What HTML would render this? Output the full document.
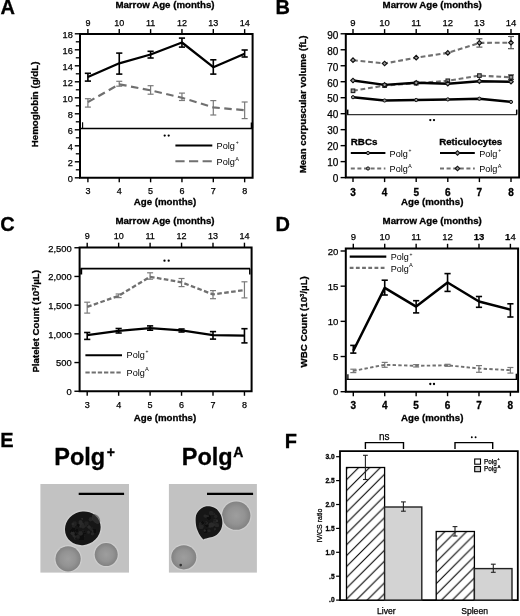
<!DOCTYPE html>
<html><head><meta charset="utf-8"><style>
html,body{margin:0;padding:0;background:#fff;}
svg{display:block;filter:blur(0.25px);font-family:"Liberation Sans", sans-serif;-webkit-font-smoothing:antialiased;will-change:transform;}
</style></head><body>
<svg width="520" height="616" viewBox="0 0 520 616">
<rect width="520" height="616" fill="#fff"/>
<text x="0.50" y="14.20" font-size="20" font-weight="bold" text-anchor="start" fill="#000" stroke="#000" stroke-width="0.3">A</text>
<text x="275.60" y="14.40" font-size="20" font-weight="bold" text-anchor="start" fill="#000" stroke="#000" stroke-width="0.3">B</text>
<text x="0.20" y="230.60" font-size="20" font-weight="bold" text-anchor="start" fill="#000" stroke="#000" stroke-width="0.3">C</text>
<text x="275.60" y="230.60" font-size="20" font-weight="bold" text-anchor="start" fill="#000" stroke="#000" stroke-width="0.3">D</text>
<text x="0.30" y="446.90" font-size="20" font-weight="bold" text-anchor="start" fill="#000" stroke="#000" stroke-width="0.3">E</text>
<text x="284.80" y="447.80" font-size="20" font-weight="bold" text-anchor="start" fill="#000" stroke="#000" stroke-width="0.3">F</text>
<path d="M80,177.8 L80,33.9 L252.6,33.9 L252.6,177.8 Z" fill="none" stroke="#000" stroke-width="2"/>
<line x1="87.90" y1="29.10" x2="87.90" y2="33.90" stroke="#000" stroke-width="1.4"/>
<text x="87.90" y="25.70" font-size="9" text-anchor="middle" fill="#000" stroke="#000" stroke-width="0.25">9</text>
<line x1="87.90" y1="177.80" x2="87.90" y2="182.30" stroke="#000" stroke-width="1.4"/>
<text x="87.90" y="194.30" font-size="9" text-anchor="middle" fill="#000" stroke="#000" stroke-width="0.25">3</text>
<line x1="119.25" y1="29.10" x2="119.25" y2="33.90" stroke="#000" stroke-width="1.4"/>
<text x="119.25" y="25.70" font-size="9" text-anchor="middle" fill="#000" stroke="#000" stroke-width="0.25">10</text>
<line x1="119.25" y1="177.80" x2="119.25" y2="182.30" stroke="#000" stroke-width="1.4"/>
<text x="119.25" y="194.30" font-size="9" text-anchor="middle" fill="#000" stroke="#000" stroke-width="0.25">4</text>
<line x1="150.60" y1="29.10" x2="150.60" y2="33.90" stroke="#000" stroke-width="1.4"/>
<text x="150.60" y="25.70" font-size="9" text-anchor="middle" fill="#000" stroke="#000" stroke-width="0.25">11</text>
<line x1="150.60" y1="177.80" x2="150.60" y2="182.30" stroke="#000" stroke-width="1.4"/>
<text x="150.60" y="194.30" font-size="9" text-anchor="middle" fill="#000" stroke="#000" stroke-width="0.25">5</text>
<line x1="181.95" y1="29.10" x2="181.95" y2="33.90" stroke="#000" stroke-width="1.4"/>
<text x="181.95" y="25.70" font-size="9" text-anchor="middle" fill="#000" stroke="#000" stroke-width="0.25">12</text>
<line x1="181.95" y1="177.80" x2="181.95" y2="182.30" stroke="#000" stroke-width="1.4"/>
<text x="181.95" y="194.30" font-size="9" text-anchor="middle" fill="#000" stroke="#000" stroke-width="0.25">6</text>
<line x1="213.30" y1="29.10" x2="213.30" y2="33.90" stroke="#000" stroke-width="1.4"/>
<text x="213.30" y="25.70" font-size="9" text-anchor="middle" fill="#000" stroke="#000" stroke-width="0.25">13</text>
<line x1="213.30" y1="177.80" x2="213.30" y2="182.30" stroke="#000" stroke-width="1.4"/>
<text x="213.30" y="194.30" font-size="9" text-anchor="middle" fill="#000" stroke="#000" stroke-width="0.25">7</text>
<line x1="244.65" y1="29.10" x2="244.65" y2="33.90" stroke="#000" stroke-width="1.4"/>
<text x="244.65" y="25.70" font-size="9" text-anchor="middle" fill="#000" stroke="#000" stroke-width="0.25">14</text>
<line x1="244.65" y1="177.80" x2="244.65" y2="182.30" stroke="#000" stroke-width="1.4"/>
<text x="244.65" y="194.30" font-size="9" text-anchor="middle" fill="#000" stroke="#000" stroke-width="0.25">8</text>
<line x1="74.80" y1="177.80" x2="80.00" y2="177.80" stroke="#000" stroke-width="1.4"/>
<text x="72.80" y="182.39" font-size="9.2" text-anchor="end" fill="#000" stroke="#000" stroke-width="0.25">0</text>
<line x1="74.80" y1="161.80" x2="80.00" y2="161.80" stroke="#000" stroke-width="1.4"/>
<text x="72.80" y="166.39" font-size="9.2" text-anchor="end" fill="#000" stroke="#000" stroke-width="0.25">2</text>
<line x1="74.80" y1="145.80" x2="80.00" y2="145.80" stroke="#000" stroke-width="1.4"/>
<text x="72.80" y="150.39" font-size="9.2" text-anchor="end" fill="#000" stroke="#000" stroke-width="0.25">4</text>
<line x1="74.80" y1="129.80" x2="80.00" y2="129.80" stroke="#000" stroke-width="1.4"/>
<text x="72.80" y="134.39" font-size="9.2" text-anchor="end" fill="#000" stroke="#000" stroke-width="0.25">6</text>
<line x1="74.80" y1="113.80" x2="80.00" y2="113.80" stroke="#000" stroke-width="1.4"/>
<text x="72.80" y="118.39" font-size="9.2" text-anchor="end" fill="#000" stroke="#000" stroke-width="0.25">8</text>
<line x1="74.80" y1="97.80" x2="80.00" y2="97.80" stroke="#000" stroke-width="1.4"/>
<text x="72.80" y="102.39" font-size="9.2" text-anchor="end" fill="#000" stroke="#000" stroke-width="0.25">10</text>
<line x1="74.80" y1="81.80" x2="80.00" y2="81.80" stroke="#000" stroke-width="1.4"/>
<text x="72.80" y="86.39" font-size="9.2" text-anchor="end" fill="#000" stroke="#000" stroke-width="0.25">12</text>
<line x1="74.80" y1="65.80" x2="80.00" y2="65.80" stroke="#000" stroke-width="1.4"/>
<text x="72.80" y="70.39" font-size="9.2" text-anchor="end" fill="#000" stroke="#000" stroke-width="0.25">14</text>
<line x1="74.80" y1="49.80" x2="80.00" y2="49.80" stroke="#000" stroke-width="1.4"/>
<text x="72.80" y="54.39" font-size="9.2" text-anchor="end" fill="#000" stroke="#000" stroke-width="0.25">16</text>
<line x1="74.80" y1="33.80" x2="80.00" y2="33.80" stroke="#000" stroke-width="1.4"/>
<text x="72.80" y="38.39" font-size="9.2" text-anchor="end" fill="#000" stroke="#000" stroke-width="0.25">18</text>
<line x1="75.80" y1="169.80" x2="80.00" y2="169.80" stroke="#000" stroke-width="1.3"/>
<line x1="75.80" y1="153.80" x2="80.00" y2="153.80" stroke="#000" stroke-width="1.3"/>
<line x1="75.80" y1="137.80" x2="80.00" y2="137.80" stroke="#000" stroke-width="1.3"/>
<line x1="75.80" y1="121.80" x2="80.00" y2="121.80" stroke="#000" stroke-width="1.3"/>
<line x1="75.80" y1="105.80" x2="80.00" y2="105.80" stroke="#000" stroke-width="1.3"/>
<line x1="75.80" y1="89.80" x2="80.00" y2="89.80" stroke="#000" stroke-width="1.3"/>
<line x1="75.80" y1="73.80" x2="80.00" y2="73.80" stroke="#000" stroke-width="1.3"/>
<line x1="75.80" y1="57.80" x2="80.00" y2="57.80" stroke="#000" stroke-width="1.3"/>
<line x1="75.80" y1="41.80" x2="80.00" y2="41.80" stroke="#000" stroke-width="1.3"/>
<text x="165.00" y="7.80" font-size="9.7" font-weight="bold" text-anchor="middle" fill="#000" stroke="#000" stroke-width="0.3">Marrow Age (months)</text>
<text x="165.00" y="205.20" font-size="9.7" font-weight="bold" text-anchor="middle" fill="#000" stroke="#000" stroke-width="0.3">Age (months)</text>
<text x="0" y="0" font-size="9.7" font-weight="bold" stroke="#000" stroke-width="0.3" text-anchor="middle" transform="translate(37.80,104.40) rotate(-90)">Hemoglobin (g/dL)</text>
<line x1="81.00" y1="128.40" x2="252.00" y2="128.40" stroke="#000" stroke-width="1.45"/>
<line x1="82.60" y1="122.30" x2="82.60" y2="128.40" stroke="#000" stroke-width="1.15"/>
<line x1="251.90" y1="122.50" x2="251.90" y2="128.30" stroke="#000" stroke-width="2.4"/>
<circle cx="164.70" cy="135.60" r="1.15" fill="#000"/><circle cx="168.70" cy="135.60" r="1.15" fill="#000"/>
<line x1="87.90" y1="98.70" x2="87.90" y2="107.10" stroke="#7a7a7a" stroke-width="1.2"/>
<line x1="84.90" y1="98.70" x2="90.90" y2="98.70" stroke="#7a7a7a" stroke-width="1.2"/>
<line x1="84.90" y1="107.10" x2="90.90" y2="107.10" stroke="#7a7a7a" stroke-width="1.2"/>
<line x1="119.25" y1="81.30" x2="119.25" y2="86.20" stroke="#7a7a7a" stroke-width="1.2"/>
<line x1="116.25" y1="81.30" x2="122.25" y2="81.30" stroke="#7a7a7a" stroke-width="1.2"/>
<line x1="116.25" y1="86.20" x2="122.25" y2="86.20" stroke="#7a7a7a" stroke-width="1.2"/>
<line x1="150.60" y1="85.70" x2="150.60" y2="94.20" stroke="#7a7a7a" stroke-width="1.2"/>
<line x1="147.60" y1="85.70" x2="153.60" y2="85.70" stroke="#7a7a7a" stroke-width="1.2"/>
<line x1="147.60" y1="94.20" x2="153.60" y2="94.20" stroke="#7a7a7a" stroke-width="1.2"/>
<line x1="181.95" y1="93.10" x2="181.95" y2="100.50" stroke="#7a7a7a" stroke-width="1.2"/>
<line x1="178.95" y1="93.10" x2="184.95" y2="93.10" stroke="#7a7a7a" stroke-width="1.2"/>
<line x1="178.95" y1="100.50" x2="184.95" y2="100.50" stroke="#7a7a7a" stroke-width="1.2"/>
<line x1="213.30" y1="100.60" x2="213.30" y2="115.00" stroke="#7a7a7a" stroke-width="1.2"/>
<line x1="210.30" y1="100.60" x2="216.30" y2="100.60" stroke="#7a7a7a" stroke-width="1.2"/>
<line x1="210.30" y1="115.00" x2="216.30" y2="115.00" stroke="#7a7a7a" stroke-width="1.2"/>
<line x1="244.65" y1="102.00" x2="244.65" y2="118.60" stroke="#7a7a7a" stroke-width="1.2"/>
<line x1="241.65" y1="102.00" x2="247.65" y2="102.00" stroke="#7a7a7a" stroke-width="1.2"/>
<line x1="241.65" y1="118.60" x2="247.65" y2="118.60" stroke="#7a7a7a" stroke-width="1.2"/>
<polyline points="87.90,102.10 119.25,84.30 150.60,90.30 181.95,97.70 213.30,107.40 244.65,110.20" fill="none" stroke="#707070" stroke-width="2.2" stroke-linejoin="round" stroke-dasharray="7.5,4.5"/>
<line x1="87.90" y1="73.30" x2="87.90" y2="81.10" stroke="#000" stroke-width="1.6"/>
<line x1="84.80" y1="73.30" x2="91.00" y2="73.30" stroke="#000" stroke-width="1.6"/>
<line x1="84.80" y1="81.10" x2="91.00" y2="81.10" stroke="#000" stroke-width="1.6"/>
<line x1="119.25" y1="53.10" x2="119.25" y2="74.10" stroke="#000" stroke-width="1.6"/>
<line x1="116.15" y1="53.10" x2="122.35" y2="53.10" stroke="#000" stroke-width="1.6"/>
<line x1="116.15" y1="74.10" x2="122.35" y2="74.10" stroke="#000" stroke-width="1.6"/>
<line x1="150.60" y1="51.30" x2="150.60" y2="58.00" stroke="#000" stroke-width="1.6"/>
<line x1="147.50" y1="51.30" x2="153.70" y2="51.30" stroke="#000" stroke-width="1.6"/>
<line x1="147.50" y1="58.00" x2="153.70" y2="58.00" stroke="#000" stroke-width="1.6"/>
<line x1="181.95" y1="38.10" x2="181.95" y2="47.10" stroke="#000" stroke-width="1.6"/>
<line x1="178.85" y1="38.10" x2="185.05" y2="38.10" stroke="#000" stroke-width="1.6"/>
<line x1="178.85" y1="47.10" x2="185.05" y2="47.10" stroke="#000" stroke-width="1.6"/>
<line x1="213.30" y1="59.80" x2="213.30" y2="74.10" stroke="#000" stroke-width="1.6"/>
<line x1="210.20" y1="59.80" x2="216.40" y2="59.80" stroke="#000" stroke-width="1.6"/>
<line x1="210.20" y1="74.10" x2="216.40" y2="74.10" stroke="#000" stroke-width="1.6"/>
<line x1="244.65" y1="50.00" x2="244.65" y2="57.00" stroke="#000" stroke-width="1.6"/>
<line x1="241.55" y1="50.00" x2="247.75" y2="50.00" stroke="#000" stroke-width="1.6"/>
<line x1="241.55" y1="57.00" x2="247.75" y2="57.00" stroke="#000" stroke-width="1.6"/>
<polyline points="87.90,77.00 119.25,63.30 150.60,54.50 181.95,42.50 213.30,67.20 244.65,53.70" fill="none" stroke="#000" stroke-width="2.3" stroke-linejoin="round"/>
<line x1="175.40" y1="145.50" x2="212.30" y2="145.50" stroke="#000" stroke-width="2.1"/>
<line x1="175.40" y1="161.20" x2="212.30" y2="161.20" stroke="#707070" stroke-width="2.1" stroke-dasharray="9.2,4.4"/>
<text x="216.60" y="149.20" font-size="9.2" text-anchor="start" fill="#000">Polg<tspan dx="0.8" dy="-4.8" font-size="5">+</tspan></text>
<text x="216.60" y="164.90" font-size="9.2" text-anchor="start" fill="#000">Polg<tspan dx="0.3" dy="-4.4" font-size="5.6">A</tspan></text>
<path d="M345.8,177.6 L345.8,33.9 L519.2,33.9 L519.2,177.6 Z" fill="none" stroke="#000" stroke-width="2"/>
<line x1="353.00" y1="29.10" x2="353.00" y2="33.90" stroke="#000" stroke-width="1.4"/>
<text x="353.00" y="25.90" font-size="9.5" text-anchor="middle" fill="#000" stroke="#000" stroke-width="0.25">9</text>
<line x1="353.00" y1="177.60" x2="353.00" y2="182.10" stroke="#000" stroke-width="1.4"/>
<text x="353.00" y="195.50" font-size="10" font-weight="bold" text-anchor="middle" fill="#000" stroke="#000" stroke-width="0.3">3</text>
<line x1="384.60" y1="29.10" x2="384.60" y2="33.90" stroke="#000" stroke-width="1.4"/>
<text x="384.60" y="25.90" font-size="9.5" text-anchor="middle" fill="#000" stroke="#000" stroke-width="0.25">10</text>
<line x1="384.60" y1="177.60" x2="384.60" y2="182.10" stroke="#000" stroke-width="1.4"/>
<text x="384.60" y="195.50" font-size="10" font-weight="bold" text-anchor="middle" fill="#000" stroke="#000" stroke-width="0.3">4</text>
<line x1="416.20" y1="29.10" x2="416.20" y2="33.90" stroke="#000" stroke-width="1.4"/>
<text x="416.20" y="25.90" font-size="9.5" text-anchor="middle" fill="#000" stroke="#000" stroke-width="0.25">11</text>
<line x1="416.20" y1="177.60" x2="416.20" y2="182.10" stroke="#000" stroke-width="1.4"/>
<text x="416.20" y="195.50" font-size="10" font-weight="bold" text-anchor="middle" fill="#000" stroke="#000" stroke-width="0.3">5</text>
<line x1="447.80" y1="29.10" x2="447.80" y2="33.90" stroke="#000" stroke-width="1.4"/>
<text x="447.80" y="25.90" font-size="9.5" text-anchor="middle" fill="#000" stroke="#000" stroke-width="0.25">12</text>
<line x1="447.80" y1="177.60" x2="447.80" y2="182.10" stroke="#000" stroke-width="1.4"/>
<text x="447.80" y="195.50" font-size="10" font-weight="bold" text-anchor="middle" fill="#000" stroke="#000" stroke-width="0.3">6</text>
<line x1="479.40" y1="29.10" x2="479.40" y2="33.90" stroke="#000" stroke-width="1.4"/>
<text x="479.40" y="25.90" font-size="9.5" text-anchor="middle" fill="#000" stroke="#000" stroke-width="0.25">13</text>
<line x1="479.40" y1="177.60" x2="479.40" y2="182.10" stroke="#000" stroke-width="1.4"/>
<text x="479.40" y="195.50" font-size="10" font-weight="bold" text-anchor="middle" fill="#000" stroke="#000" stroke-width="0.3">7</text>
<line x1="511.00" y1="29.10" x2="511.00" y2="33.90" stroke="#000" stroke-width="1.4"/>
<text x="511.00" y="25.90" font-size="9.5" text-anchor="middle" fill="#000" stroke="#000" stroke-width="0.25">14</text>
<line x1="511.00" y1="177.60" x2="511.00" y2="182.10" stroke="#000" stroke-width="1.4"/>
<text x="511.00" y="195.50" font-size="10" font-weight="bold" text-anchor="middle" fill="#000" stroke="#000" stroke-width="0.3">8</text>
<line x1="340.60" y1="177.60" x2="345.80" y2="177.60" stroke="#000" stroke-width="1.4"/>
<text x="338.40" y="182.38" font-size="10" text-anchor="end" fill="#000" stroke="#000" stroke-width="0.25">0</text>
<line x1="340.60" y1="161.62" x2="345.80" y2="161.62" stroke="#000" stroke-width="1.4"/>
<text x="338.40" y="166.40" font-size="10" text-anchor="end" fill="#000" stroke="#000" stroke-width="0.25">10</text>
<line x1="340.60" y1="145.64" x2="345.80" y2="145.64" stroke="#000" stroke-width="1.4"/>
<text x="338.40" y="150.42" font-size="10" text-anchor="end" fill="#000" stroke="#000" stroke-width="0.25">20</text>
<line x1="340.60" y1="129.66" x2="345.80" y2="129.66" stroke="#000" stroke-width="1.4"/>
<text x="338.40" y="134.44" font-size="10" text-anchor="end" fill="#000" stroke="#000" stroke-width="0.25">30</text>
<line x1="340.60" y1="113.68" x2="345.80" y2="113.68" stroke="#000" stroke-width="1.4"/>
<text x="338.40" y="118.46" font-size="10" text-anchor="end" fill="#000" stroke="#000" stroke-width="0.25">40</text>
<line x1="340.60" y1="97.70" x2="345.80" y2="97.70" stroke="#000" stroke-width="1.4"/>
<text x="338.40" y="102.48" font-size="10" text-anchor="end" fill="#000" stroke="#000" stroke-width="0.25">50</text>
<line x1="340.60" y1="81.72" x2="345.80" y2="81.72" stroke="#000" stroke-width="1.4"/>
<text x="338.40" y="86.50" font-size="10" text-anchor="end" fill="#000" stroke="#000" stroke-width="0.25">60</text>
<line x1="340.60" y1="65.74" x2="345.80" y2="65.74" stroke="#000" stroke-width="1.4"/>
<text x="338.40" y="70.52" font-size="10" text-anchor="end" fill="#000" stroke="#000" stroke-width="0.25">70</text>
<line x1="340.60" y1="49.76" x2="345.80" y2="49.76" stroke="#000" stroke-width="1.4"/>
<text x="338.40" y="54.54" font-size="10" text-anchor="end" fill="#000" stroke="#000" stroke-width="0.25">80</text>
<line x1="340.60" y1="33.78" x2="345.80" y2="33.78" stroke="#000" stroke-width="1.4"/>
<text x="338.40" y="38.56" font-size="10" text-anchor="end" fill="#000" stroke="#000" stroke-width="0.25">90</text>
<text x="432.20" y="7.80" font-size="9.7" font-weight="bold" text-anchor="middle" fill="#000" stroke="#000" stroke-width="0.3">Marrow Age (months)</text>
<text x="432.20" y="205.30" font-size="9.7" font-weight="bold" text-anchor="middle" fill="#000" stroke="#000" stroke-width="0.3">Age (months)</text>
<text x="0" y="0" font-size="9.7" font-weight="bold" stroke="#000" stroke-width="0.3" text-anchor="middle" transform="translate(305.90,104.30) rotate(-90)">Mean corpuscular volume (fL)</text>
<line x1="346.50" y1="114.60" x2="517.00" y2="114.60" stroke="#333" stroke-width="1.4"/>
<line x1="347.70" y1="109.60" x2="347.70" y2="114.60" stroke="#000" stroke-width="1.5"/>
<line x1="516.70" y1="109.60" x2="516.70" y2="114.60" stroke="#000" stroke-width="1.5"/>
<circle cx="430.30" cy="120.10" r="1.15" fill="#000"/><circle cx="434.00" cy="120.10" r="1.15" fill="#000"/>
<line x1="479.40" y1="38.80" x2="479.40" y2="47.10" stroke="#555" stroke-width="1.2"/>
<line x1="476.40" y1="38.80" x2="482.40" y2="38.80" stroke="#555" stroke-width="1.2"/>
<line x1="476.40" y1="47.10" x2="482.40" y2="47.10" stroke="#555" stroke-width="1.2"/>
<line x1="511.00" y1="36.50" x2="511.00" y2="48.70" stroke="#555" stroke-width="1.2"/>
<line x1="508.00" y1="36.50" x2="514.00" y2="36.50" stroke="#555" stroke-width="1.2"/>
<line x1="508.00" y1="48.70" x2="514.00" y2="48.70" stroke="#555" stroke-width="1.2"/>
<polyline points="353.00,60.20 384.60,63.50 416.20,57.70 447.80,52.90 479.40,42.90 511.00,42.70" fill="none" stroke="#707070" stroke-width="2.1" stroke-linejoin="round" stroke-dasharray="4.8,2.8"/>
<path d="M350.70,60.20 L353.00,57.90 L355.30,60.20 L353.00,62.50 Z" fill="#999" stroke="#111" stroke-width="1.1"/>
<path d="M382.30,63.50 L384.60,61.20 L386.90,63.50 L384.60,65.80 Z" fill="#999" stroke="#111" stroke-width="1.1"/>
<path d="M413.90,57.70 L416.20,55.40 L418.50,57.70 L416.20,60.00 Z" fill="#999" stroke="#111" stroke-width="1.1"/>
<path d="M445.50,52.90 L447.80,50.60 L450.10,52.90 L447.80,55.20 Z" fill="#999" stroke="#111" stroke-width="1.1"/>
<path d="M477.10,42.90 L479.40,40.60 L481.70,42.90 L479.40,45.20 Z" fill="#999" stroke="#111" stroke-width="1.1"/>
<path d="M508.70,42.70 L511.00,40.40 L513.30,42.70 L511.00,45.00 Z" fill="#999" stroke="#111" stroke-width="1.1"/>
<line x1="511.00" y1="74.80" x2="511.00" y2="79.60" stroke="#555" stroke-width="1.2"/>
<line x1="508.00" y1="74.80" x2="514.00" y2="74.80" stroke="#555" stroke-width="1.2"/>
<line x1="508.00" y1="79.60" x2="514.00" y2="79.60" stroke="#555" stroke-width="1.2"/>
<polyline points="353.00,90.80 384.60,85.60 416.20,83.20 447.80,80.80 479.40,75.60 511.00,77.30" fill="none" stroke="#707070" stroke-width="2.1" stroke-linejoin="round" stroke-dasharray="4.8,2.8"/>
<rect x="351.20" y="89.00" width="3.6" height="3.6" fill="#999" stroke="#222" stroke-width="1.1"/>
<rect x="382.80" y="83.80" width="3.6" height="3.6" fill="#999" stroke="#222" stroke-width="1.1"/>
<rect x="414.40" y="81.40" width="3.6" height="3.6" fill="#999" stroke="#222" stroke-width="1.1"/>
<rect x="446.00" y="79.00" width="3.6" height="3.6" fill="#999" stroke="#222" stroke-width="1.1"/>
<rect x="477.60" y="73.80" width="3.6" height="3.6" fill="#999" stroke="#222" stroke-width="1.1"/>
<rect x="509.20" y="75.50" width="3.6" height="3.6" fill="#999" stroke="#222" stroke-width="1.1"/>
<polyline points="353.00,80.50 384.60,84.90 416.20,82.80 447.80,83.70 479.40,81.20 511.00,81.70" fill="none" stroke="#000" stroke-width="2.4" stroke-linejoin="round"/>
<path d="M350.70,80.50 L353.00,78.20 L355.30,80.50 L353.00,82.80 Z" fill="#999" stroke="#111" stroke-width="1.1"/>
<path d="M382.30,84.90 L384.60,82.60 L386.90,84.90 L384.60,87.20 Z" fill="#999" stroke="#111" stroke-width="1.1"/>
<path d="M413.90,82.80 L416.20,80.50 L418.50,82.80 L416.20,85.10 Z" fill="#999" stroke="#111" stroke-width="1.1"/>
<path d="M445.50,83.70 L447.80,81.40 L450.10,83.70 L447.80,86.00 Z" fill="#999" stroke="#111" stroke-width="1.1"/>
<path d="M477.10,81.20 L479.40,78.90 L481.70,81.20 L479.40,83.50 Z" fill="#999" stroke="#111" stroke-width="1.1"/>
<path d="M508.70,81.70 L511.00,79.40 L513.30,81.70 L511.00,84.00 Z" fill="#999" stroke="#111" stroke-width="1.1"/>
<polyline points="353.00,97.20 384.60,100.50 416.20,100.00 447.80,99.40 479.40,98.70 511.00,101.90" fill="none" stroke="#000" stroke-width="2.5" stroke-linejoin="round"/>
<circle cx="353.00" cy="97.20" r="1.6" fill="#999" stroke="#111" stroke-width="1.0"/>
<circle cx="384.60" cy="100.50" r="1.6" fill="#999" stroke="#111" stroke-width="1.0"/>
<circle cx="416.20" cy="100.00" r="1.6" fill="#999" stroke="#111" stroke-width="1.0"/>
<circle cx="447.80" cy="99.40" r="1.6" fill="#999" stroke="#111" stroke-width="1.0"/>
<circle cx="479.40" cy="98.70" r="1.6" fill="#999" stroke="#111" stroke-width="1.0"/>
<circle cx="511.00" cy="101.90" r="1.6" fill="#999" stroke="#111" stroke-width="1.0"/>
<text x="350.80" y="144.80" font-size="9.8" font-weight="bold" text-anchor="start" fill="#000" stroke="#000" stroke-width="0.3">RBCs</text>
<text x="439.20" y="144.80" font-size="9.7" font-weight="bold" text-anchor="start" fill="#000" stroke="#000" stroke-width="0.3">Reticulocytes</text>
<line x1="350.80" y1="153.00" x2="385.40" y2="153.00" stroke="#000" stroke-width="2.2"/>
<circle cx="368.00" cy="153.00" r="1.6" fill="#999" stroke="#111" stroke-width="1.0"/>
<line x1="350.80" y1="168.50" x2="385.40" y2="168.50" stroke="#707070" stroke-width="2.1" stroke-dasharray="4,2.6"/>
<circle cx="368.00" cy="168.50" r="1.6" fill="#999" stroke="#111" stroke-width="1.0"/>
<line x1="440.00" y1="153.00" x2="474.80" y2="153.00" stroke="#000" stroke-width="2.2"/>
<path d="M455.20,153.00 L457.50,150.70 L459.80,153.00 L457.50,155.30 Z" fill="#999" stroke="#111" stroke-width="1.1"/>
<line x1="440.00" y1="168.50" x2="474.80" y2="168.50" stroke="#707070" stroke-width="2.1" stroke-dasharray="4,2.6"/>
<path d="M455.20,168.50 L457.50,166.20 L459.80,168.50 L457.50,170.80 Z" fill="#999" stroke="#111" stroke-width="1.1"/>
<text x="389.60" y="156.60" font-size="9.1" text-anchor="start" fill="#000">Polg<tspan dx="0.8" dy="-4.6" font-size="5">+</tspan></text>
<text x="389.60" y="172.10" font-size="9.1" text-anchor="start" fill="#000">Polg<tspan dx="0.3" dy="-4.4" font-size="5.6">A</tspan></text>
<text x="479.20" y="156.60" font-size="9.1" text-anchor="start" fill="#000">Polg<tspan dx="0.8" dy="-4.6" font-size="5">+</tspan></text>
<text x="479.20" y="172.10" font-size="9.1" text-anchor="start" fill="#000">Polg<tspan dx="0.3" dy="-4.4" font-size="5.6">A</tspan></text>
<path d="M79.6,391.3 L79.6,247.5 L251.6,247.5 L251.6,391.3 Z" fill="none" stroke="#000" stroke-width="2"/>
<line x1="87.20" y1="242.70" x2="87.20" y2="247.50" stroke="#000" stroke-width="1.4"/>
<text x="87.20" y="238.90" font-size="9" text-anchor="middle" fill="#000" stroke="#000" stroke-width="0.25">9</text>
<line x1="87.20" y1="391.30" x2="87.20" y2="395.80" stroke="#000" stroke-width="1.4"/>
<text x="87.20" y="407.80" font-size="9" text-anchor="middle" fill="#000" stroke="#000" stroke-width="0.25">3</text>
<line x1="118.65" y1="242.70" x2="118.65" y2="247.50" stroke="#000" stroke-width="1.4"/>
<text x="118.65" y="238.90" font-size="9" text-anchor="middle" fill="#000" stroke="#000" stroke-width="0.25">10</text>
<line x1="118.65" y1="391.30" x2="118.65" y2="395.80" stroke="#000" stroke-width="1.4"/>
<text x="118.65" y="407.80" font-size="9" text-anchor="middle" fill="#000" stroke="#000" stroke-width="0.25">4</text>
<line x1="150.10" y1="242.70" x2="150.10" y2="247.50" stroke="#000" stroke-width="1.4"/>
<text x="150.10" y="238.90" font-size="9" text-anchor="middle" fill="#000" stroke="#000" stroke-width="0.25">11</text>
<line x1="150.10" y1="391.30" x2="150.10" y2="395.80" stroke="#000" stroke-width="1.4"/>
<text x="150.10" y="407.80" font-size="9" text-anchor="middle" fill="#000" stroke="#000" stroke-width="0.25">5</text>
<line x1="181.55" y1="242.70" x2="181.55" y2="247.50" stroke="#000" stroke-width="1.4"/>
<text x="181.55" y="238.90" font-size="9" text-anchor="middle" fill="#000" stroke="#000" stroke-width="0.25">12</text>
<line x1="181.55" y1="391.30" x2="181.55" y2="395.80" stroke="#000" stroke-width="1.4"/>
<text x="181.55" y="407.80" font-size="9" text-anchor="middle" fill="#000" stroke="#000" stroke-width="0.25">6</text>
<line x1="213.00" y1="242.70" x2="213.00" y2="247.50" stroke="#000" stroke-width="1.4"/>
<text x="213.00" y="238.90" font-size="9" text-anchor="middle" fill="#000" stroke="#000" stroke-width="0.25">13</text>
<line x1="213.00" y1="391.30" x2="213.00" y2="395.80" stroke="#000" stroke-width="1.4"/>
<text x="213.00" y="407.80" font-size="9" text-anchor="middle" fill="#000" stroke="#000" stroke-width="0.25">7</text>
<line x1="244.45" y1="242.70" x2="244.45" y2="247.50" stroke="#000" stroke-width="1.4"/>
<text x="244.45" y="238.90" font-size="9" text-anchor="middle" fill="#000" stroke="#000" stroke-width="0.25">14</text>
<line x1="244.45" y1="391.30" x2="244.45" y2="395.80" stroke="#000" stroke-width="1.4"/>
<text x="244.45" y="407.80" font-size="9" text-anchor="middle" fill="#000" stroke="#000" stroke-width="0.25">8</text>
<line x1="74.40" y1="391.25" x2="79.60" y2="391.25" stroke="#000" stroke-width="1.4"/>
<text x="71.70" y="395.02" font-size="9.4" text-anchor="end" fill="#000" stroke="#000" stroke-width="0.25">0</text>
<line x1="74.40" y1="362.55" x2="79.60" y2="362.55" stroke="#000" stroke-width="1.4"/>
<text x="71.70" y="366.32" font-size="9.4" text-anchor="end" fill="#000" stroke="#000" stroke-width="0.25">500</text>
<line x1="74.40" y1="333.85" x2="79.60" y2="333.85" stroke="#000" stroke-width="1.4"/>
<text x="71.70" y="337.62" font-size="9.4" text-anchor="end" fill="#000" stroke="#000" stroke-width="0.25">1,000</text>
<line x1="74.40" y1="305.15" x2="79.60" y2="305.15" stroke="#000" stroke-width="1.4"/>
<text x="71.70" y="308.92" font-size="9.4" text-anchor="end" fill="#000" stroke="#000" stroke-width="0.25">1,500</text>
<line x1="74.40" y1="276.45" x2="79.60" y2="276.45" stroke="#000" stroke-width="1.4"/>
<text x="71.70" y="280.22" font-size="9.4" text-anchor="end" fill="#000" stroke="#000" stroke-width="0.25">2,000</text>
<line x1="74.40" y1="247.75" x2="79.60" y2="247.75" stroke="#000" stroke-width="1.4"/>
<text x="71.70" y="251.52" font-size="9.4" text-anchor="end" fill="#000" stroke="#000" stroke-width="0.25">2,500</text>
<text x="165.00" y="224.00" font-size="9.7" font-weight="bold" text-anchor="middle" fill="#000" stroke="#000" stroke-width="0.3">Marrow Age (months)</text>
<text x="165.00" y="421.30" font-size="9.7" font-weight="bold" text-anchor="middle" fill="#000" stroke="#000" stroke-width="0.3">Age (months)</text>
<text x="0" y="0" font-size="9.7" font-weight="bold" stroke="#000" stroke-width="0.3" text-anchor="middle" transform="translate(38.70,321.30) rotate(-90)">Platelet Count (10<tspan dy="-3" font-size="6">3</tspan><tspan dy="3">/µL)</tspan></text>
<line x1="80.50" y1="268.60" x2="250.00" y2="268.60" stroke="#000" stroke-width="1.7"/>
<line x1="81.20" y1="268.60" x2="81.20" y2="274.50" stroke="#000" stroke-width="2.0"/>
<line x1="249.80" y1="268.60" x2="249.80" y2="274.50" stroke="#000" stroke-width="1.5"/>
<circle cx="164.50" cy="260.70" r="1.15" fill="#000"/><circle cx="168.70" cy="260.70" r="1.15" fill="#000"/>
<line x1="87.20" y1="302.20" x2="87.20" y2="313.10" stroke="#7a7a7a" stroke-width="1.2"/>
<line x1="84.20" y1="302.20" x2="90.20" y2="302.20" stroke="#7a7a7a" stroke-width="1.2"/>
<line x1="84.20" y1="313.10" x2="90.20" y2="313.10" stroke="#7a7a7a" stroke-width="1.2"/>
<line x1="118.65" y1="294.00" x2="118.65" y2="297.60" stroke="#7a7a7a" stroke-width="1.2"/>
<line x1="115.65" y1="294.00" x2="121.65" y2="294.00" stroke="#7a7a7a" stroke-width="1.2"/>
<line x1="115.65" y1="297.60" x2="121.65" y2="297.60" stroke="#7a7a7a" stroke-width="1.2"/>
<line x1="150.10" y1="272.80" x2="150.10" y2="279.20" stroke="#7a7a7a" stroke-width="1.2"/>
<line x1="147.10" y1="272.80" x2="153.10" y2="272.80" stroke="#7a7a7a" stroke-width="1.2"/>
<line x1="147.10" y1="279.20" x2="153.10" y2="279.20" stroke="#7a7a7a" stroke-width="1.2"/>
<line x1="181.55" y1="278.50" x2="181.55" y2="286.60" stroke="#7a7a7a" stroke-width="1.2"/>
<line x1="178.55" y1="278.50" x2="184.55" y2="278.50" stroke="#7a7a7a" stroke-width="1.2"/>
<line x1="178.55" y1="286.60" x2="184.55" y2="286.60" stroke="#7a7a7a" stroke-width="1.2"/>
<line x1="213.00" y1="290.60" x2="213.00" y2="298.70" stroke="#7a7a7a" stroke-width="1.2"/>
<line x1="210.00" y1="290.60" x2="216.00" y2="290.60" stroke="#7a7a7a" stroke-width="1.2"/>
<line x1="210.00" y1="298.70" x2="216.00" y2="298.70" stroke="#7a7a7a" stroke-width="1.2"/>
<line x1="244.45" y1="281.80" x2="244.45" y2="297.90" stroke="#7a7a7a" stroke-width="1.2"/>
<line x1="241.45" y1="281.80" x2="247.45" y2="281.80" stroke="#7a7a7a" stroke-width="1.2"/>
<line x1="241.45" y1="297.90" x2="247.45" y2="297.90" stroke="#7a7a7a" stroke-width="1.2"/>
<polyline points="87.20,306.90 118.65,295.80 150.10,276.80 181.55,282.30 213.00,294.40 244.45,290.10" fill="none" stroke="#707070" stroke-width="2.3" stroke-linejoin="round" stroke-dasharray="4.6,2.4"/>
<line x1="87.20" y1="332.50" x2="87.20" y2="339.40" stroke="#000" stroke-width="1.6"/>
<line x1="84.10" y1="332.50" x2="90.30" y2="332.50" stroke="#000" stroke-width="1.6"/>
<line x1="84.10" y1="339.40" x2="90.30" y2="339.40" stroke="#000" stroke-width="1.6"/>
<line x1="118.65" y1="328.50" x2="118.65" y2="333.00" stroke="#000" stroke-width="1.6"/>
<line x1="115.55" y1="328.50" x2="121.75" y2="328.50" stroke="#000" stroke-width="1.6"/>
<line x1="115.55" y1="333.00" x2="121.75" y2="333.00" stroke="#000" stroke-width="1.6"/>
<line x1="150.10" y1="325.90" x2="150.10" y2="330.20" stroke="#000" stroke-width="1.6"/>
<line x1="147.00" y1="325.90" x2="153.20" y2="325.90" stroke="#000" stroke-width="1.6"/>
<line x1="147.00" y1="330.20" x2="153.20" y2="330.20" stroke="#000" stroke-width="1.6"/>
<line x1="181.55" y1="329.00" x2="181.55" y2="332.00" stroke="#000" stroke-width="1.6"/>
<line x1="178.45" y1="329.00" x2="184.65" y2="329.00" stroke="#000" stroke-width="1.6"/>
<line x1="178.45" y1="332.00" x2="184.65" y2="332.00" stroke="#000" stroke-width="1.6"/>
<line x1="213.00" y1="331.60" x2="213.00" y2="339.10" stroke="#000" stroke-width="1.6"/>
<line x1="209.90" y1="331.60" x2="216.10" y2="331.60" stroke="#000" stroke-width="1.6"/>
<line x1="209.90" y1="339.10" x2="216.10" y2="339.10" stroke="#000" stroke-width="1.6"/>
<line x1="244.45" y1="328.70" x2="244.45" y2="342.90" stroke="#000" stroke-width="1.6"/>
<line x1="241.35" y1="328.70" x2="247.55" y2="328.70" stroke="#000" stroke-width="1.6"/>
<line x1="241.35" y1="342.90" x2="247.55" y2="342.90" stroke="#000" stroke-width="1.6"/>
<polyline points="87.20,335.10 118.65,330.80 150.10,328.20 181.55,330.40 213.00,335.10 244.45,335.60" fill="none" stroke="#000" stroke-width="2.3" stroke-linejoin="round"/>
<line x1="85.40" y1="355.30" x2="122.00" y2="355.30" stroke="#000" stroke-width="1.9"/>
<line x1="85.40" y1="372.40" x2="122.00" y2="372.40" stroke="#707070" stroke-width="2.0" stroke-dasharray="4.3,1.9"/>
<text x="126.60" y="358.20" font-size="9.1" text-anchor="start" fill="#000">Polg<tspan dx="0.6" dy="-4.8" font-size="5">+</tspan></text>
<text x="126.60" y="375.70" font-size="9.1" text-anchor="start" fill="#000">Polg<tspan dx="0.2" dy="-4.4" font-size="5.6">A</tspan></text>
<path d="M345.8,391.7 L345.8,248.6 L518.1,248.6 L518.1,391.7 Z" fill="none" stroke="#000" stroke-width="2"/>
<line x1="353.30" y1="243.80" x2="353.30" y2="248.60" stroke="#000" stroke-width="1.4"/>
<text x="353.30" y="240.20" font-size="9.5" text-anchor="middle" fill="#000" stroke="#000" stroke-width="0.25">9</text>
<line x1="353.30" y1="391.70" x2="353.30" y2="396.20" stroke="#000" stroke-width="1.4"/>
<text x="353.30" y="409.10" font-size="10" font-weight="bold" text-anchor="middle" fill="#000" stroke="#000" stroke-width="0.3">3</text>
<line x1="384.72" y1="243.80" x2="384.72" y2="248.60" stroke="#000" stroke-width="1.4"/>
<text x="384.72" y="240.20" font-size="9.5" text-anchor="middle" fill="#000" stroke="#000" stroke-width="0.25">10</text>
<line x1="384.72" y1="391.70" x2="384.72" y2="396.20" stroke="#000" stroke-width="1.4"/>
<text x="384.72" y="409.10" font-size="10" font-weight="bold" text-anchor="middle" fill="#000" stroke="#000" stroke-width="0.3">4</text>
<line x1="416.14" y1="243.80" x2="416.14" y2="248.60" stroke="#000" stroke-width="1.4"/>
<text x="416.14" y="240.20" font-size="9.5" text-anchor="middle" fill="#000" stroke="#000" stroke-width="0.25">11</text>
<line x1="416.14" y1="391.70" x2="416.14" y2="396.20" stroke="#000" stroke-width="1.4"/>
<text x="416.14" y="409.10" font-size="10" font-weight="bold" text-anchor="middle" fill="#000" stroke="#000" stroke-width="0.3">5</text>
<line x1="447.56" y1="243.80" x2="447.56" y2="248.60" stroke="#000" stroke-width="1.4"/>
<text x="447.56" y="240.20" font-size="9.5" text-anchor="middle" fill="#000" stroke="#000" stroke-width="0.25">12</text>
<line x1="447.56" y1="391.70" x2="447.56" y2="396.20" stroke="#000" stroke-width="1.4"/>
<text x="447.56" y="409.10" font-size="10" font-weight="bold" text-anchor="middle" fill="#000" stroke="#000" stroke-width="0.3">6</text>
<line x1="478.98" y1="243.80" x2="478.98" y2="248.60" stroke="#000" stroke-width="1.4"/>
<text x="478.98" y="240.20" font-size="9.5" text-anchor="middle" fill="#000" stroke="#000" stroke-width="0.25"><tspan font-weight="bold">13</tspan></text>
<line x1="478.98" y1="391.70" x2="478.98" y2="396.20" stroke="#000" stroke-width="1.4"/>
<text x="478.98" y="409.10" font-size="10" font-weight="bold" text-anchor="middle" fill="#000" stroke="#000" stroke-width="0.3">7</text>
<line x1="510.40" y1="243.80" x2="510.40" y2="248.60" stroke="#000" stroke-width="1.4"/>
<text x="510.40" y="240.20" font-size="9.5" text-anchor="middle" fill="#000" stroke="#000" stroke-width="0.25"><tspan font-weight="bold">1</tspan>4</text>
<line x1="510.40" y1="391.70" x2="510.40" y2="396.20" stroke="#000" stroke-width="1.4"/>
<text x="510.40" y="409.10" font-size="10" font-weight="bold" text-anchor="middle" fill="#000" stroke="#000" stroke-width="0.3">8</text>
<line x1="340.60" y1="391.70" x2="345.80" y2="391.70" stroke="#000" stroke-width="1.4"/>
<text x="338.30" y="395.44" font-size="9.6" text-anchor="end" fill="#000" stroke="#000" stroke-width="0.25">0</text>
<line x1="340.60" y1="356.52" x2="345.80" y2="356.52" stroke="#000" stroke-width="1.4"/>
<text x="338.30" y="360.26" font-size="9.6" text-anchor="end" fill="#000" stroke="#000" stroke-width="0.25">5</text>
<line x1="340.60" y1="321.35" x2="345.80" y2="321.35" stroke="#000" stroke-width="1.4"/>
<text x="338.30" y="325.09" font-size="9.6" text-anchor="end" fill="#000" stroke="#000" stroke-width="0.25">10</text>
<line x1="340.60" y1="286.17" x2="345.80" y2="286.17" stroke="#000" stroke-width="1.4"/>
<text x="338.30" y="289.91" font-size="9.6" text-anchor="end" fill="#000" stroke="#000" stroke-width="0.25">15</text>
<line x1="340.60" y1="251.00" x2="345.80" y2="251.00" stroke="#000" stroke-width="1.4"/>
<text x="338.30" y="254.74" font-size="9.6" text-anchor="end" fill="#000" stroke="#000" stroke-width="0.25">20</text>
<text x="432.20" y="224.00" font-size="9.7" font-weight="bold" text-anchor="middle" fill="#000" stroke="#000" stroke-width="0.3">Marrow Age (months)</text>
<text x="432.20" y="420.90" font-size="9.7" font-weight="bold" text-anchor="middle" fill="#000" stroke="#000" stroke-width="0.3">Age (months)</text>
<text x="0" y="0" font-size="9.7" font-weight="bold" stroke="#000" stroke-width="0.3" text-anchor="middle" transform="translate(307.40,321.80) rotate(-90)">WBC Count (10<tspan dy="-3" font-size="6">3</tspan><tspan dy="3">/µL)</tspan></text>
<line x1="346.50" y1="379.40" x2="517.00" y2="379.40" stroke="#000" stroke-width="1.35"/>
<line x1="347.90" y1="374.20" x2="347.90" y2="379.40" stroke="#000" stroke-width="1.3"/>
<line x1="516.40" y1="373.70" x2="516.40" y2="379.40" stroke="#000" stroke-width="1.5"/>
<circle cx="430.30" cy="384.00" r="1.15" fill="#000"/><circle cx="434.00" cy="384.00" r="1.15" fill="#000"/>
<line x1="353.30" y1="369.20" x2="353.30" y2="372.60" stroke="#7a7a7a" stroke-width="1.2"/>
<line x1="350.30" y1="369.20" x2="356.30" y2="369.20" stroke="#7a7a7a" stroke-width="1.2"/>
<line x1="350.30" y1="372.60" x2="356.30" y2="372.60" stroke="#7a7a7a" stroke-width="1.2"/>
<line x1="384.72" y1="362.40" x2="384.72" y2="367.30" stroke="#7a7a7a" stroke-width="1.2"/>
<line x1="381.72" y1="362.40" x2="387.72" y2="362.40" stroke="#7a7a7a" stroke-width="1.2"/>
<line x1="381.72" y1="367.30" x2="387.72" y2="367.30" stroke="#7a7a7a" stroke-width="1.2"/>
<line x1="416.14" y1="364.60" x2="416.14" y2="367.00" stroke="#7a7a7a" stroke-width="1.2"/>
<line x1="413.14" y1="364.60" x2="419.14" y2="364.60" stroke="#7a7a7a" stroke-width="1.2"/>
<line x1="413.14" y1="367.00" x2="419.14" y2="367.00" stroke="#7a7a7a" stroke-width="1.2"/>
<line x1="447.56" y1="364.30" x2="447.56" y2="366.30" stroke="#7a7a7a" stroke-width="1.2"/>
<line x1="444.56" y1="364.30" x2="450.56" y2="364.30" stroke="#7a7a7a" stroke-width="1.2"/>
<line x1="444.56" y1="366.30" x2="450.56" y2="366.30" stroke="#7a7a7a" stroke-width="1.2"/>
<line x1="478.98" y1="365.60" x2="478.98" y2="372.30" stroke="#7a7a7a" stroke-width="1.2"/>
<line x1="475.98" y1="365.60" x2="481.98" y2="365.60" stroke="#7a7a7a" stroke-width="1.2"/>
<line x1="475.98" y1="372.30" x2="481.98" y2="372.30" stroke="#7a7a7a" stroke-width="1.2"/>
<line x1="510.40" y1="367.50" x2="510.40" y2="373.10" stroke="#7a7a7a" stroke-width="1.2"/>
<line x1="507.40" y1="367.50" x2="513.40" y2="367.50" stroke="#7a7a7a" stroke-width="1.2"/>
<line x1="507.40" y1="373.10" x2="513.40" y2="373.10" stroke="#7a7a7a" stroke-width="1.2"/>
<polyline points="353.30,370.90 384.72,364.80 416.14,365.80 447.56,365.30 478.98,368.50 510.40,370.20" fill="none" stroke="#707070" stroke-width="1.9" stroke-linejoin="round" stroke-dasharray="3.4,2.3"/>
<line x1="353.30" y1="345.40" x2="353.30" y2="353.10" stroke="#000" stroke-width="1.6"/>
<line x1="350.20" y1="345.40" x2="356.40" y2="345.40" stroke="#000" stroke-width="1.6"/>
<line x1="350.20" y1="353.10" x2="356.40" y2="353.10" stroke="#000" stroke-width="1.6"/>
<line x1="384.72" y1="280.20" x2="384.72" y2="295.00" stroke="#000" stroke-width="1.6"/>
<line x1="381.62" y1="280.20" x2="387.82" y2="280.20" stroke="#000" stroke-width="1.6"/>
<line x1="381.62" y1="295.00" x2="387.82" y2="295.00" stroke="#000" stroke-width="1.6"/>
<line x1="416.14" y1="300.70" x2="416.14" y2="312.90" stroke="#000" stroke-width="1.6"/>
<line x1="413.04" y1="300.70" x2="419.24" y2="300.70" stroke="#000" stroke-width="1.6"/>
<line x1="413.04" y1="312.90" x2="419.24" y2="312.90" stroke="#000" stroke-width="1.6"/>
<line x1="447.56" y1="273.60" x2="447.56" y2="291.40" stroke="#000" stroke-width="1.6"/>
<line x1="444.46" y1="273.60" x2="450.66" y2="273.60" stroke="#000" stroke-width="1.6"/>
<line x1="444.46" y1="291.40" x2="450.66" y2="291.40" stroke="#000" stroke-width="1.6"/>
<line x1="478.98" y1="296.50" x2="478.98" y2="307.30" stroke="#000" stroke-width="1.6"/>
<line x1="475.88" y1="296.50" x2="482.08" y2="296.50" stroke="#000" stroke-width="1.6"/>
<line x1="475.88" y1="307.30" x2="482.08" y2="307.30" stroke="#000" stroke-width="1.6"/>
<line x1="510.40" y1="303.80" x2="510.40" y2="317.00" stroke="#000" stroke-width="1.6"/>
<line x1="507.30" y1="303.80" x2="513.50" y2="303.80" stroke="#000" stroke-width="1.6"/>
<line x1="507.30" y1="317.00" x2="513.50" y2="317.00" stroke="#000" stroke-width="1.6"/>
<polyline points="353.30,350.80 384.72,287.90 416.14,306.60 447.56,282.50 478.98,301.50 510.40,309.60" fill="none" stroke="#000" stroke-width="2.5" stroke-linejoin="round"/>
<line x1="349.70" y1="256.60" x2="386.30" y2="256.60" stroke="#000" stroke-width="2.1"/>
<line x1="349.70" y1="267.90" x2="386.30" y2="267.90" stroke="#707070" stroke-width="2.1" stroke-dasharray="3.8,2.4"/>
<text x="390.80" y="260.30" font-size="9.0" text-anchor="start" fill="#000">Polg<tspan dx="0.8" dy="-4.6" font-size="5">+</tspan></text>
<text x="390.80" y="271.60" font-size="9.0" text-anchor="start" fill="#000">Polg<tspan dx="0.3" dy="-4.4" font-size="5.6">A</tspan></text>
<text x="54.30" y="465.40" font-size="23.5" font-weight="bold" text-anchor="start" fill="#000" stroke="#000" stroke-width="0.3">Polg<tspan dx="1.6" dy="-8.5" font-size="14">+</tspan></text>
<text x="181.80" y="465.30" font-size="23.5" font-weight="bold" text-anchor="start" fill="#000" stroke="#000" stroke-width="0.3">Polg<tspan dx="0.5" dy="-8.5" font-size="14">A</tspan></text>
<defs><radialGradient id="rbc" cx="50%" cy="50%" r="50%"><stop offset="0" stop-color="#9e9e9e"/><stop offset="0.6" stop-color="#939393"/><stop offset="0.88" stop-color="#878787"/><stop offset="1" stop-color="#838383"/></radialGradient><radialGradient id="nuc" cx="45%" cy="55%" r="55%"><stop offset="0" stop-color="#1c1c1c"/><stop offset="0.7" stop-color="#252525"/><stop offset="1" stop-color="#333"/></radialGradient><filter id="bl" x="-20%" y="-20%" width="140%" height="140%"><feGaussianBlur stdDeviation="0.55"/></filter><pattern id="hatch1" patternUnits="userSpaceOnUse" width="10.85" height="10.85" patternTransform="translate(0,1.650)"><path d="M-1,11.85 L11.85,-1 M-11.85,11.85 L11.85,-11.85 M-1,22.7 L22.7,-1" stroke="#000" stroke-width="1.1"/></pattern><pattern id="hatch3" patternUnits="userSpaceOnUse" width="10.85" height="10.85" patternTransform="translate(0,10.800)"><path d="M-1,11.85 L11.85,-1 M-11.85,11.85 L11.85,-11.85 M-1,22.7 L22.7,-1" stroke="#000" stroke-width="1.1"/></pattern></defs>
<rect x="40.4" y="484" width="88.6" height="88.6" fill="#c2c2c2"/>
<g filter="url(#bl)">
<circle cx="68.1" cy="558.8" r="13.8" fill="#cecece"/>
<circle cx="106.2" cy="554.6" r="12.7" fill="#cecece"/>
<ellipse cx="82.8" cy="528.3" rx="19.4" ry="18.1" transform="rotate(-25 82.8 528.3)" fill="#cecece"/>
<circle cx="68.1" cy="558.8" r="12.6" fill="url(#rbc)"/>
<circle cx="106.2" cy="554.6" r="11.5" fill="url(#rbc)"/>
<ellipse cx="82.8" cy="528.3" rx="18.1" ry="16.6" transform="rotate(-25 82.8 528.3)" fill="#161616"/>
<circle cx="83.5" cy="536.8" r="1.7" fill="#2a2a2a"/><circle cx="73.2" cy="529.7" r="2.1" fill="#121212"/><circle cx="82.4" cy="533.9" r="2.8" fill="#121212"/><circle cx="73.6" cy="526.1" r="1.7" fill="#262626"/><circle cx="83.4" cy="532.8" r="2.7" fill="#121212"/><circle cx="82.2" cy="518.8" r="1.1" fill="#2a2a2a"/><circle cx="93.7" cy="531.0" r="2.5" fill="#0e0e0e"/><circle cx="72.1" cy="530.0" r="2.6" fill="#121212"/><circle cx="73.8" cy="534.7" r="1.8" fill="#262626"/><circle cx="85.7" cy="525.8" r="1.2" fill="#262626"/><circle cx="82.3" cy="537.8" r="2.4" fill="#0e0e0e"/><circle cx="72.5" cy="533.3" r="2.0" fill="#2a2a2a"/><circle cx="74.4" cy="523.8" r="2.6" fill="#202020"/><circle cx="90.7" cy="519.2" r="2.2" fill="#262626"/><circle cx="80.5" cy="522.0" r="2.0" fill="#2a2a2a"/><circle cx="73.0" cy="524.2" r="1.4" fill="#2a2a2a"/><circle cx="82.3" cy="532.4" r="1.9" fill="#121212"/><circle cx="92.5" cy="533.8" r="1.7" fill="#262626"/><circle cx="91.1" cy="529.3" r="1.7" fill="#202020"/><circle cx="92.4" cy="530.8" r="1.1" fill="#2a2a2a"/><circle cx="76.9" cy="537.8" r="2.8" fill="#2a2a2a"/><circle cx="83.0" cy="530.5" r="1.0" fill="#202020"/><circle cx="81.0" cy="527.1" r="1.4" fill="#121212"/><circle cx="81.1" cy="534.1" r="2.2" fill="#0e0e0e"/><circle cx="77.9" cy="538.8" r="2.6" fill="#121212"/><circle cx="74.3" cy="535.9" r="1.7" fill="#2a2a2a"/><circle cx="81.1" cy="524.9" r="2.8" fill="#2a2a2a"/><circle cx="81.4" cy="537.5" r="2.3" fill="#0e0e0e"/><circle cx="76.8" cy="530.6" r="1.5" fill="#0e0e0e"/><circle cx="91.0" cy="528.8" r="2.0" fill="#202020"/><circle cx="75.8" cy="534.5" r="1.2" fill="#0e0e0e"/><circle cx="72.5" cy="530.3" r="1.6" fill="#0e0e0e"/><circle cx="82.7" cy="526.6" r="1.1" fill="#202020"/><circle cx="89.0" cy="527.0" r="1.8" fill="#2a2a2a"/><circle cx="78.5" cy="525.4" r="1.3" fill="#0e0e0e"/><circle cx="86.5" cy="523.3" r="2.4" fill="#202020"/><circle cx="83.1" cy="526.4" r="2.0" fill="#262626"/><circle cx="80.6" cy="533.4" r="2.4" fill="#262626"/><circle cx="77.9" cy="536.7" r="2.2" fill="#202020"/><circle cx="88.6" cy="532.2" r="1.6" fill="#262626"/>
<ellipse cx="96" cy="519" rx="3.5" ry="5.5" transform="rotate(-35 96 519)" fill="#3a3a3a" opacity="0.6"/>
</g>
<line x1="78.70" y1="493.80" x2="124.10" y2="493.80" stroke="#000" stroke-width="2.2"/>
<rect x="168.9" y="484" width="88" height="88.6" fill="#c2c2c2"/>
<g filter="url(#bl)">
<circle cx="236.2" cy="515.6" r="15.4" fill="#cecece"/>
<ellipse cx="183.8" cy="557.3" rx="13.6" ry="13.2" fill="#cecece"/>
<circle cx="236.2" cy="515.6" r="14.2" fill="url(#rbc)"/>
<ellipse cx="183.8" cy="557.3" rx="12.5" ry="12.1" fill="url(#rbc)"/>
<circle cx="180.7" cy="565.1" r="1.3" fill="#333"/>
<path d="M195.8,516.9 C196.5,512 201,507.5 205.4,506.5 C209,505.8 216,506.5 219.2,512.3 C221.5,515.5 222.5,519 222.3,524 C222,528 220.5,531 218.5,533.1 C216.5,535.5 213.5,537 209.5,537.6 C207,538.2 204.8,538.8 203.4,539.4 C201.2,537.8 199.2,534.5 197.7,530.8 C196,527.5 195.3,521.5 195.8,516.9 Z" fill="#cecece" stroke="#cecece" stroke-width="2.4"/>
<path d="M195.8,516.9 C196.5,512 201,507.5 205.4,506.5 C209,505.8 216,506.5 219.2,512.3 C221.5,515.5 222.5,519 222.3,524 C222,528 220.5,531 218.5,533.1 C216.5,535.5 213.5,537 209.5,537.6 C207,538.2 204.8,538.8 203.4,539.4 C201.2,537.8 199.2,534.5 197.7,530.8 C196,527.5 195.3,521.5 195.8,516.9 Z" fill="#141414"/>
<circle cx="201.5" cy="526.1" r="1.3" fill="#0e0e0e"/><circle cx="208.8" cy="517.6" r="2.0" fill="#0e0e0e"/><circle cx="209.5" cy="526.1" r="2.0" fill="#262626"/><circle cx="205.8" cy="531.2" r="2.0" fill="#0e0e0e"/><circle cx="204.7" cy="530.5" r="1.2" fill="#2a2a2a"/><circle cx="207.2" cy="525.6" r="1.5" fill="#0e0e0e"/><circle cx="202.2" cy="524.3" r="1.5" fill="#2a2a2a"/><circle cx="201.9" cy="527.9" r="1.3" fill="#202020"/><circle cx="201.1" cy="523.8" r="2.1" fill="#2a2a2a"/><circle cx="201.1" cy="526.6" r="2.7" fill="#262626"/><circle cx="214.8" cy="523.9" r="2.4" fill="#2a2a2a"/><circle cx="215.3" cy="520.8" r="2.6" fill="#202020"/><circle cx="214.4" cy="514.5" r="1.2" fill="#262626"/><circle cx="217.0" cy="525.3" r="2.2" fill="#262626"/><circle cx="215.6" cy="516.5" r="2.0" fill="#202020"/><circle cx="206.0" cy="522.9" r="1.9" fill="#262626"/><circle cx="205.7" cy="516.1" r="1.7" fill="#2a2a2a"/><circle cx="211.4" cy="524.9" r="2.7" fill="#2a2a2a"/><circle cx="201.3" cy="523.8" r="1.6" fill="#262626"/><circle cx="215.0" cy="529.3" r="1.2" fill="#262626"/><circle cx="211.2" cy="512.9" r="2.5" fill="#202020"/><circle cx="202.4" cy="523.1" r="1.7" fill="#0e0e0e"/><circle cx="209.1" cy="530.7" r="1.9" fill="#202020"/><circle cx="201.4" cy="524.1" r="1.0" fill="#202020"/><circle cx="209.3" cy="520.3" r="1.1" fill="#121212"/><circle cx="217.0" cy="521.0" r="1.2" fill="#2a2a2a"/><circle cx="205.5" cy="522.8" r="1.1" fill="#121212"/><circle cx="204.9" cy="516.1" r="1.6" fill="#262626"/><circle cx="214.7" cy="522.0" r="1.2" fill="#202020"/><circle cx="207.9" cy="516.2" r="1.1" fill="#262626"/>
</g>
<line x1="207.00" y1="493.80" x2="253.10" y2="493.80" stroke="#000" stroke-width="2.2"/>
<path d="M340,600.1 L340,451.2 L517.8,451.2 L517.8,600.1 Z" fill="none" stroke="#000" stroke-width="1.8"/>
<line x1="336.10" y1="600.10" x2="340.00" y2="600.10" stroke="#000" stroke-width="1.2"/>
<text x="334.60" y="602.40" font-size="6.6" font-weight="bold" text-anchor="end" fill="#000" stroke="#000" stroke-width="0.3">.0</text>
<line x1="336.10" y1="576.20" x2="340.00" y2="576.20" stroke="#000" stroke-width="1.2"/>
<text x="334.60" y="578.50" font-size="6.6" font-weight="bold" text-anchor="end" fill="#000" stroke="#000" stroke-width="0.3">.5</text>
<line x1="336.10" y1="552.30" x2="340.00" y2="552.30" stroke="#000" stroke-width="1.2"/>
<text x="334.60" y="554.60" font-size="6.6" font-weight="bold" text-anchor="end" fill="#000" stroke="#000" stroke-width="0.3">1.0</text>
<line x1="336.10" y1="528.40" x2="340.00" y2="528.40" stroke="#000" stroke-width="1.2"/>
<text x="334.60" y="530.70" font-size="6.6" font-weight="bold" text-anchor="end" fill="#000" stroke="#000" stroke-width="0.3">1.5</text>
<line x1="336.10" y1="504.50" x2="340.00" y2="504.50" stroke="#000" stroke-width="1.2"/>
<text x="334.60" y="506.80" font-size="6.6" font-weight="bold" text-anchor="end" fill="#000" stroke="#000" stroke-width="0.3">2.0</text>
<line x1="336.10" y1="480.60" x2="340.00" y2="480.60" stroke="#000" stroke-width="1.2"/>
<text x="334.60" y="482.90" font-size="6.6" font-weight="bold" text-anchor="end" fill="#000" stroke="#000" stroke-width="0.3">2.5</text>
<line x1="336.10" y1="456.70" x2="340.00" y2="456.70" stroke="#000" stroke-width="1.2"/>
<text x="334.60" y="459.00" font-size="6.6" font-weight="bold" text-anchor="end" fill="#000" stroke="#000" stroke-width="0.3">3.0</text>
<text x="0" y="0" font-size="7" stroke="#000" stroke-width="0.25" text-anchor="middle" transform="translate(322.00,525.60) rotate(-90)">IV/CS ratio</text>
<rect x="346.50" y="467.50" width="38.10" height="132.60" fill="#fff"/>
<rect x="346.50" y="467.50" width="38.10" height="132.60" fill="url(#hatch1)" stroke="#000" stroke-width="1.3"/>
<rect x="384.60" y="507.00" width="37.20" height="93.10" fill="#d3d3d3" stroke="#222" stroke-width="1.4"/>
<rect x="436.20" y="531.50" width="38.20" height="68.60" fill="#fff"/>
<rect x="436.20" y="531.50" width="38.20" height="68.60" fill="url(#hatch3)" stroke="#000" stroke-width="1.3"/>
<rect x="474.40" y="568.60" width="37.60" height="31.50" fill="#d3d3d3" stroke="#222" stroke-width="1.4"/>
<line x1="365.40" y1="455.30" x2="365.40" y2="479.50" stroke="#222" stroke-width="1.1"/>
<line x1="363.00" y1="455.30" x2="367.80" y2="455.30" stroke="#222" stroke-width="1.1"/>
<line x1="363.00" y1="479.50" x2="367.80" y2="479.50" stroke="#222" stroke-width="1.1"/>
<line x1="403.40" y1="501.90" x2="403.40" y2="511.20" stroke="#222" stroke-width="1.1"/>
<line x1="401.00" y1="501.90" x2="405.80" y2="501.90" stroke="#222" stroke-width="1.1"/>
<line x1="401.00" y1="511.20" x2="405.80" y2="511.20" stroke="#222" stroke-width="1.1"/>
<line x1="455.00" y1="526.60" x2="455.00" y2="536.00" stroke="#222" stroke-width="1.1"/>
<line x1="452.60" y1="526.60" x2="457.40" y2="526.60" stroke="#222" stroke-width="1.1"/>
<line x1="452.60" y1="536.00" x2="457.40" y2="536.00" stroke="#222" stroke-width="1.1"/>
<line x1="493.30" y1="564.20" x2="493.30" y2="572.30" stroke="#222" stroke-width="1.1"/>
<line x1="490.90" y1="564.20" x2="495.70" y2="564.20" stroke="#222" stroke-width="1.1"/>
<line x1="490.90" y1="572.30" x2="495.70" y2="572.30" stroke="#222" stroke-width="1.1"/>
<path d="M365.4,449 L365.4,442.6 L403.5,442.6 L403.5,449" fill="none" stroke="#000" stroke-width="1.4"/>
<path d="M455,449 L455,442.6 L492.7,442.6 L492.7,449" fill="none" stroke="#000" stroke-width="1.4"/>
<text x="384.30" y="439.80" font-size="10" text-anchor="middle" fill="#000" stroke="#000" stroke-width="0.25">ns</text>
<circle cx="471.80" cy="437.30" r="0.95" fill="#000"/><circle cx="475.60" cy="437.30" r="0.95" fill="#000"/>
<rect x="474.7" y="459" width="5.8" height="5.2" fill="#fff" stroke="#000" stroke-width="1.1"/>
<rect x="474.7" y="466.5" width="5.8" height="5.2" fill="#d3d3d3" stroke="#000" stroke-width="1.1"/>
<text x="484.00" y="463.50" font-size="6.4" text-anchor="start" fill="#000" stroke="#000" stroke-width="0.25">Polg<tspan dx="0.4" dy="-3.2" font-size="4.2">+</tspan></text>
<text x="484.00" y="471.00" font-size="6.4" text-anchor="start" fill="#000" stroke="#000" stroke-width="0.25">Polg<tspan dx="0.8" dy="-3.4" font-size="4.4">A</tspan></text>
<text x="386.30" y="613.80" font-size="8.6" text-anchor="middle" fill="#000" stroke="#000" stroke-width="0.25">Liver</text>
<text x="474.60" y="613.80" font-size="8.6" text-anchor="middle" fill="#000" stroke="#000" stroke-width="0.25">Spleen</text>
</svg>
</body></html>
